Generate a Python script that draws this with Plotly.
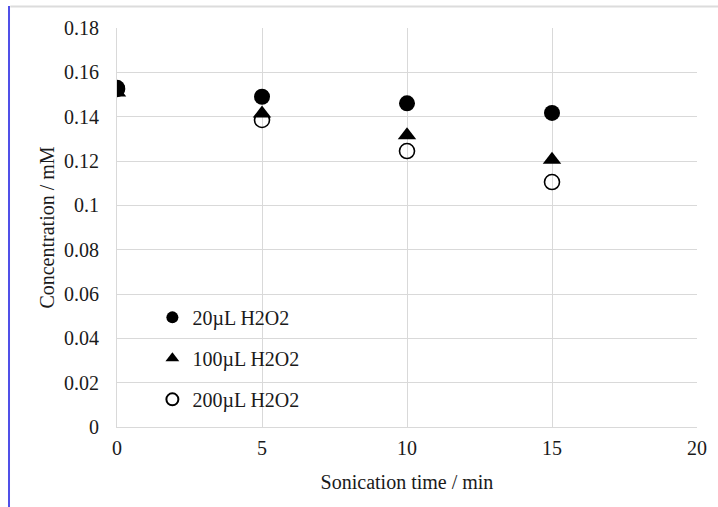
import plotly.graph_objects as go

time_min = [0, 5, 10, 15]
conc_20uL = [0.153, 0.149, 0.146, 0.1417]
conc_100uL = [0.1509, 0.1414, 0.1316, 0.1206]
conc_200uL = [0.1525, 0.1385, 0.1245, 0.1105]
series_names = ["20µL H2O2", "100µL H2O2", "200µL H2O2"]

FONT = "Liberation Serif"
FS = 20
TXT = "#1a1a1a"
fig = go.Figure()
fig.add_trace(go.Scatter(x=time_min, y=conc_20uL, mode="markers", name=series_names[0],
                         legendgroup="a",
                         marker=dict(symbol="circle", size=16, color="black")))
fig.add_trace(go.Scatter(x=time_min, y=conc_100uL, mode="markers", name=series_names[1],
                         legendgroup="b",
                         marker=dict(symbol="triangle-up", size=16, color="black")))
fig.add_trace(go.Scatter(x=time_min, y=conc_200uL, mode="markers", name=series_names[2],
                         legendgroup="c",
                         marker=dict(symbol="circle-open", size=15, color="black",
                                     line=dict(width=1.6, color="black"))))

grid = "#d9d9d9"
fig.update_layout(
    width=718, height=507,
    margin=dict(l=117, r=21, t=28, b=80),
    paper_bgcolor="white", plot_bgcolor="white",
    font=dict(family=FONT, size=FS, color=TXT),
    showlegend=True,
    legend=dict(x=0.061, y=0.172, xanchor="left", yanchor="middle",
                bgcolor="rgba(0,0,0,0)", font=dict(family=FONT, size=FS, color=TXT),
                traceorder="grouped", tracegroupgap=12, itemsizing="constant",
                itemwidth=30),
    xaxis=dict(range=[0, 20], dtick=5, showgrid=True, gridcolor=grid, gridwidth=1,
               showline=True, linecolor=grid, linewidth=1, zeroline=False,
               ticks="", ticklabelstandoff=3,
               title=dict(text="Sonication time / min", font=dict(family=FONT, size=FS, color=TXT),
                          standoff=16)),
    yaxis=dict(range=[0, 0.18], dtick=0.02, showgrid=True, gridcolor=grid, gridwidth=1,
               showline=True, linecolor=grid, linewidth=1, zeroline=False,
               ticks="", ticklabelstandoff=13, tickformat="~g",
               title=dict(text="Concentration / mM", font=dict(family=FONT, size=FS, color=TXT),
                          standoff=4)),
)
# screenshot frame artifacts
fig.add_shape(type="line", xref="paper", yref="paper", x0=-0.1862, x1=-0.1862, y0=-0.25, y1=1.055,
              line=dict(color="#5050e8", width=2))
fig.add_shape(type="line", xref="paper", yref="paper", x0=-0.184, x1=1.05, y0=1.054, y1=1.054,
              line=dict(color="#dcdcdc", width=2))
fig.write_html("out.html", config={"displayModeBar": False},
               post_script="document.body.style.margin='0';")
